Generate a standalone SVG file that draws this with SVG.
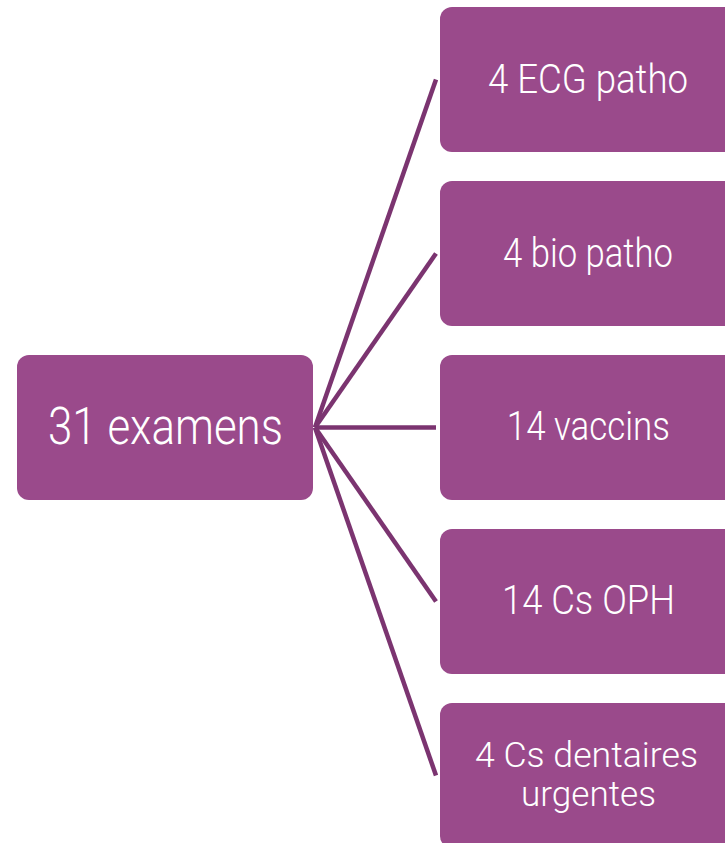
<svg xmlns="http://www.w3.org/2000/svg" width="725" height="843" viewBox="0 0 725 843">
<style>
.box{fill:#9a4a8b;}
.lbl{font-family:Roboto,"Liberation Sans",Arial,sans-serif;font-weight:300;fill:#ffffff;text-anchor:middle;}
.link{stroke:#7b3470;stroke-width:4.5;fill:none;}
</style>
<rect width="725" height="843" fill="#ffffff"/>
<g id="connectors">
<line class="link" x1="315" y1="427.5" x2="436" y2="79.5"/>
<line class="link" x1="315" y1="427.5" x2="436" y2="253.5"/>
<line class="link" x1="315" y1="427.5" x2="436" y2="427.5"/>
<line class="link" x1="315" y1="427.5" x2="436" y2="601.5"/>
<line class="link" x1="315" y1="427.5" x2="436" y2="775.5"/>
</g>
<g id="root">
<rect class="box" x="17" y="355" width="296" height="145" rx="12"/>
<text class="lbl" x="165.5" y="444" font-size="52" textLength="235" lengthAdjust="spacingAndGlyphs">31 examens</text>
</g>
<g id="n1">
<rect class="box" x="440" y="7" width="296" height="145" rx="12"/>
<text class="lbl" x="588" y="93" font-size="41" textLength="200" lengthAdjust="spacingAndGlyphs">4 ECG patho</text>
</g>
<g id="n2">
<rect class="box" x="440" y="181" width="296" height="145" rx="12"/>
<text class="lbl" x="588" y="267" font-size="41" textLength="170" lengthAdjust="spacingAndGlyphs">4 bio patho</text>
</g>
<g id="n3">
<rect class="box" x="440" y="355" width="296" height="145" rx="12"/>
<text class="lbl" x="588.3" y="440" font-size="41" textLength="163" lengthAdjust="spacingAndGlyphs">14 vaccins</text>
</g>
<g id="n4">
<rect class="box" x="440" y="529" width="296" height="145" rx="12"/>
<text class="lbl" x="588.5" y="614" font-size="41" textLength="173" lengthAdjust="spacingAndGlyphs">14 Cs OPH</text>
</g>
<g id="n5">
<rect class="box" x="440" y="703" width="296" height="145" rx="12"/>
<text class="lbl" x="586.5" y="767" font-size="35" textLength="223" lengthAdjust="spacingAndGlyphs">4 Cs dentaires</text>
<text class="lbl" x="588.5" y="806" font-size="35" textLength="135" lengthAdjust="spacingAndGlyphs">urgentes</text>
</g>
</svg>
